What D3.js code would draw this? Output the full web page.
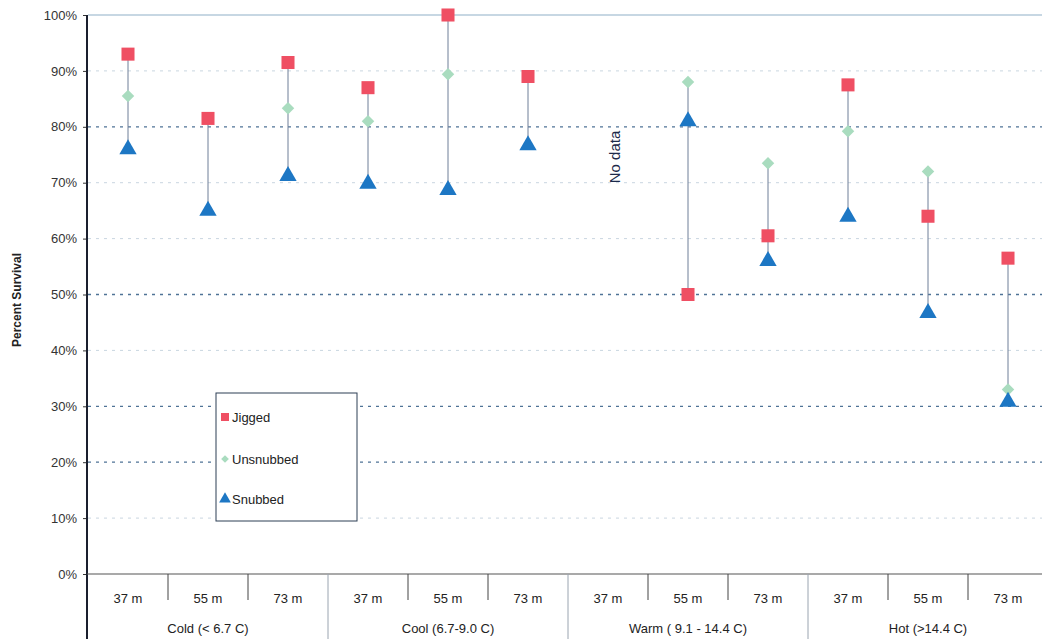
<!DOCTYPE html>
<html><head><meta charset="utf-8">
<script src="https://cdn.jsdelivr.net/npm/d3@7"></script>
<style>
html,body{margin:0;padding:0;background:#fff;}
svg{display:block;font-family:Arial,"Liberation Sans",sans-serif;}
</style></head>
<body>
<svg id="c" width="1042" height="639"></svg>
<script>
// ---- data ----
const groups = ["Cold (< 6.7 C)", "Cool (6.7-9.0 C)", "Warm ( 9.1 - 14.4 C)", "Hot (>14.4 C)"];
const depths = ["37 m", "55 m", "73 m"];
// per category (group x depth), null = missing
const jigged    = [93, 81.5, 91.5,   87, 100, 89,    null, 50, 60.5,   87.5, 64, 56.5];
const unsnubbed = [85.5, null, 83.3, 81, 89.4, null, null, 88, 73.5,   79.2, 72, 33];
const snubbed   = [76, 65, 71.2,     69.8, 68.7, 76.7, null, 81, 56,   63.9, 46.7, 30.8];
const yTicks = [0, 10, 20, 30, 40, 50, 60, 70, 80, 90, 100];
const noDataLabel = "No data";

const svg = d3.select("#c");
const cats = [];
groups.forEach((g, gi) => depths.forEach((d, di) => cats.push({key: gi + "-" + di, g, d, gi, di})));

const x = d3.scaleBand().domain(cats.map(c => c.key)).range([88, 1048]).padding(0);
const y = d3.scaleLinear().domain([0, 100]).range([574, 15]);

// gridlines
const strong = new Set([20, 30, 50, 80]);
svg.append("g").selectAll("line").data(yTicks.filter(t => t > 0)).join("line")
  .attr("x1", 88).attr("x2", 1042)
  .attr("y1", d => y(d)).attr("y2", d => y(d))
  .attr("stroke", d => d === 100 ? "#8fb0c8" : (strong.has(d) ? "#4f7396" : "#c9d6e0"))
  .attr("stroke-width", d => d === 100 ? 1.2 : (strong.has(d) ? 1.3 : 1))
  .attr("stroke-dasharray", d => d === 100 ? null : "3,5");

// y axis
const yAxis = d3.axisLeft(y).tickValues(yTicks).tickFormat(d => d + "%").tickSize(4).tickPadding(6);
const ya = svg.append("g").attr("transform", "translate(87,0)").call(yAxis);
ya.select(".domain").remove();
ya.selectAll(".tick line").attr("stroke", "#333");
ya.selectAll(".tick text").attr("font-size", 13).attr("fill", "#333").attr("font-family", "Arial, Liberation Sans, sans-serif");
svg.append("line").attr("x1", 87).attr("x2", 87).attr("y1", 15).attr("y2", 639)
  .attr("stroke", "#1a1f2e").attr("stroke-width", 2);

// baseline
svg.append("line").attr("x1", 87).attr("x2", 1042).attr("y1", y(0)).attr("y2", y(0))
  .attr("stroke", "#555").attr("stroke-width", 1.2);

// category separators
const seps = cats.slice(1);
svg.append("g").selectAll("line").data(seps).join("line")
  .attr("x1", c => x(c.key)).attr("x2", c => x(c.key))
  .attr("y1", y(0)).attr("y2", c => c.di === 0 ? 639 : 600)
  .attr("stroke", c => c.di === 0 ? "#9aa4b0" : "#444")
  .attr("stroke-width", 1);

// x labels
svg.append("g").selectAll("text").data(cats).join("text")
  .attr("x", c => x(c.key) + x.bandwidth() / 2).attr("y", 603)
  .attr("text-anchor", "middle").attr("font-size", 13).attr("fill", "#222")
  .text(c => c.d);
svg.append("g").selectAll("text").data(groups).join("text")
  .attr("x", (g, i) => x(i + "-1") + x.bandwidth() / 2).attr("y", 633)
  .attr("text-anchor", "middle").attr("font-size", 13).attr("fill", "#222")
  .text(g => g);

// y label
svg.append("text").attr("transform", "translate(21,300) rotate(-90)")
  .attr("text-anchor", "middle").attr("font-size", 12).attr("font-weight", "bold").attr("fill", "#222")
  .text("Percent Survival");

// range lines
const rows = cats.map((c, i) => ({c, vals: [jigged[i], unsnubbed[i], snubbed[i]].filter(v => v != null)}));
svg.append("g").selectAll("line").data(rows.filter(r => r.vals.length > 1)).join("line")
  .attr("x1", r => x(r.c.key) + x.bandwidth() / 2).attr("x2", r => x(r.c.key) + x.bandwidth() / 2)
  .attr("y1", r => y(d3.max(r.vals))).attr("y2", r => y(d3.min(r.vals)))
  .attr("stroke", "#6f7f98").attr("stroke-width", 1);

const cx = i => x(cats[i].key) + x.bandwidth() / 2;
const red = "#ef4f63", green = "#a9dcbf", blue = "#1d77c4";
const sq = d3.symbol().type(d3.symbolSquare).size(170);
const di = d3.symbol().type(d3.symbolSquare).size(78);
const tr = d3.symbol().type(d3.symbolTriangle).size(130);

svg.append("g").selectAll("path").data(unsnubbed.map((v, i) => ({v, i})).filter(d => d.v != null)).join("path")
  .attr("d", di).attr("fill", green).attr("transform", d => `translate(${cx(d.i)},${y(d.v)}) rotate(45)`);
svg.append("g").selectAll("path").data(snubbed.map((v, i) => ({v, i})).filter(d => d.v != null)).join("path")
  .attr("d", tr).attr("fill", blue).attr("transform", d => `translate(${cx(d.i)},${y(d.v)})`);
svg.append("g").selectAll("path").data(jigged.map((v, i) => ({v, i})).filter(d => d.v != null)).join("path")
  .attr("d", sq).attr("fill", red).attr("transform", d => `translate(${cx(d.i)},${y(d.v)})`);

// no data label
const ndIdx = jigged.findIndex((v, i) => v == null && unsnubbed[i] == null && snubbed[i] == null);
svg.append("text").attr("transform", `translate(${x(cats[ndIdx].key) + x.bandwidth() / 2 + 12},${y(74.6)}) rotate(-90)`)
  .attr("text-anchor", "middle").attr("font-size", 15).attr("fill", "#1c2a4a")
  .text(noDataLabel);

// legend
const lg = svg.append("g").attr("transform", "translate(216,393)");
lg.append("rect").attr("x", 0).attr("y", 0).attr("width", 141).attr("height", 128)
  .attr("fill", "#fff").attr("stroke", "#2d3e55").attr("stroke-width", 1);
const leg = [{n: "Jigged", c: red, yy: 24, rot: 0}, {n: "Unsnubbed", c: green, yy: 66, rot: 45}, {n: "Snubbed", c: blue, yy: 106, rot: 0}];
const ls = {Jigged: d3.symbol().type(d3.symbolSquare).size(64), Unsnubbed: d3.symbol().type(d3.symbolSquare).size(30), Snubbed: d3.symbol().type(d3.symbolTriangle).size(60)};
leg.forEach(l => {
  lg.append("path").attr("d", ls[l.n]).attr("fill", l.c).attr("transform", `translate(9,${l.yy}) rotate(${l.rot})`);
  lg.append("text").attr("x", 16).attr("y", l.yy + 5).attr("font-size", 13).attr("fill", "#222").text(l.n);
});
</script>
</body></html>
